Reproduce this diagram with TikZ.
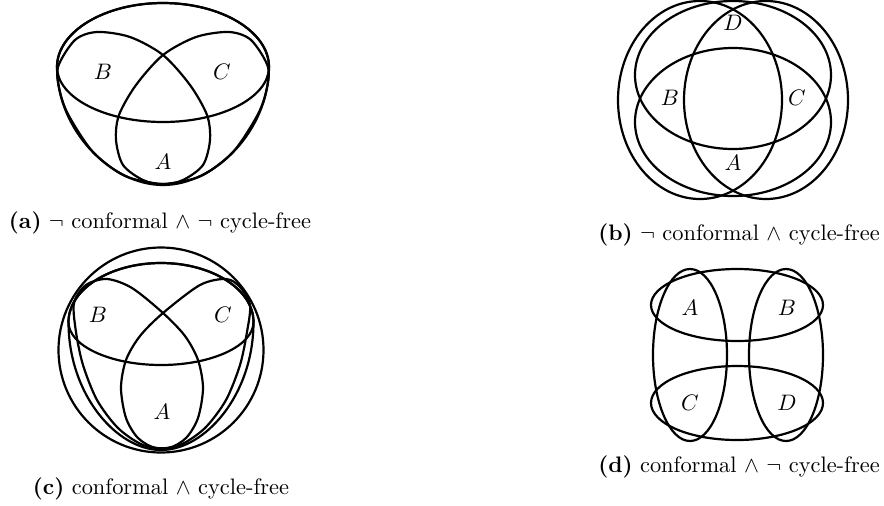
\documentclass[tikz,border=0pt]{standalone}
\usepackage{amssymb}
\begin{document}
\begin{tikzpicture}[x=0.5pt,y=-0.5pt,
  set/.style={line width=1.1pt, line join=round},
  lbl/.style={inner sep=0pt, scale=1.12},
  captxt/.style={anchor=base, inner sep=0pt, scale=1.12}]
\useasboundingbox (0,0) rectangle (884,505);

% ---------- (a)
\draw[set] (57,67) .. controls (57,31.7) and (104.5,3) .. (163,3) .. controls (221.5,3) and (269,31.7) .. (269,67)
  .. controls (269,130) and (215,185) .. (163,185) .. controls (111,185) and (57,130) .. (57,67) -- cycle;
\draw[set] (57,67) .. controls (57,31.7) and (104.5,3) .. (163,3) .. controls (221.5,3) and (269,31.7) .. (269,67)
  .. controls (269,97.4) and (221.5,122) .. (163,122) .. controls (104.5,122) and (57,97.4) .. (57,67) -- cycle;
\draw[set] plot[smooth cycle] coordinates {(58,67) (75,40) (97,32) (130,37) (163,55) (190,85) (207,115) (210,140) (203,165) (183,180) (162,184) (125,176) (93,152) (69,116) (60,92)};
\draw[set] plot[smooth cycle] coordinates {(268,67) (251,40) (229,32) (196,37) (163,55) (136,85) (119,115) (116,140) (123,165) (143,180) (164,184) (201,176) (233,152) (257,116) (266,92)};
\node[lbl] (aB) at (103,72) {$B$};
\node[lbl] (aC) at (222,72) {$C$};
\node[lbl] (aA) at (163,162) {$A$};
\node[captxt] (capa) at (160,228) {\textbf{(a)} $\neg$ conformal $\wedge$ $\neg$ cycle-free};

% ---------- (b)
\draw[set] (733,75) ellipse [x radius=49pt, y radius=37pt];
\draw[set] (733,122) ellipse [x radius=49pt, y radius=37pt];
\draw[set] (700,100) ellipse [x radius=41pt, y radius=49.5pt];
\draw[set] (766,100) ellipse [x radius=41pt, y radius=49.5pt];
\node[lbl] (bD) at (733,23) {$D$};
\node[lbl] (bB) at (670,98) {$B$};
\node[lbl] (bC) at (797,98) {$C$};
\node[lbl] (bA) at (733,163) {$A$};
\node[captxt] (capb) at (739,240) {\textbf{(b)} $\neg$ conformal $\wedge$ cycle-free};

% ---------- (c)
\draw[set] (161,350) circle [radius=51.25pt];
\draw[set] (68.5,322) .. controls (68.5,289.4) and (109.9,263) .. (161,263) .. controls (212.1,263) and (253.5,289.4) .. (253.5,322)
  .. controls (253.5,395) and (205,450) .. (161,450) .. controls (117,450) and (68.5,395) .. (68.5,322) -- cycle;
\draw[set] (68.5,322) .. controls (68.5,289.4) and (109.9,263) .. (161,263) .. controls (212.1,263) and (253.5,289.4) .. (253.5,322)
  .. controls (253.5,345.7) and (212.1,365) .. (161,365) .. controls (109.9,365) and (68.5,345.7) .. (68.5,322) -- cycle;
\draw[set] plot[smooth cycle] coordinates {(74,303) (86,285) (107,279) (132,288) (163,313) (185,336) (198,360) (203,388) (198,418) (186,438) (168,448) (143,445) (118,428) (97,400) (83,365) (76,332)};
\draw[set] plot[smooth cycle] coordinates {(250,305) (240,287) (226,279) (200,285) (163,313) (140,336) (126,360) (121,388) (126,418) (138,438) (156,448) (180,445) (205,428) (226,400) (240,365) (247,332)};
\node[lbl] (cB) at (98,315) {$B$};
\node[lbl] (cC) at (223,315) {$C$};
\node[lbl] (cA) at (162,412) {$A$};
\node[captxt] (capc) at (161,494) {\textbf{(c)} conformal $\wedge$ cycle-free};

% ---------- (d)
\draw[set] (737,305) ellipse [x radius=43pt, y radius=18pt];
\draw[set] (737,403) ellipse [x radius=43pt, y radius=18.5pt];
\draw[set] (690,355) ellipse [x radius=18.5pt, y radius=43pt];
\draw[set] (786,355) ellipse [x radius=18.5pt, y radius=43pt];
\node[lbl] (dA) at (690,308) {$A$};
\node[lbl] (dB) at (787,308) {$B$};
\node[lbl] (dC) at (690,403) {$C$};
\node[lbl] (dD) at (787,403) {$D$};
\node[captxt] (capd) at (739,472) {\textbf{(d)} conformal $\wedge$ $\neg$ cycle-free};
\end{tikzpicture}
\end{document}
